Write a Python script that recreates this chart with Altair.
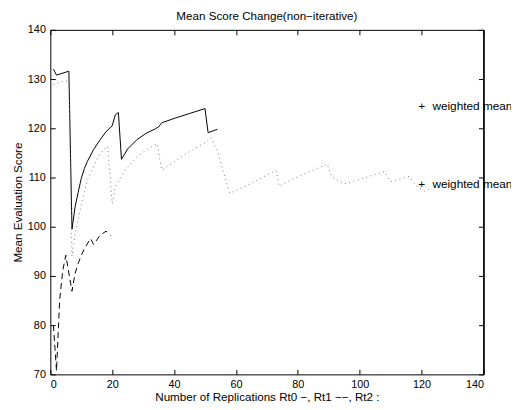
import altair as alt
import pandas as pd

# Rt0 (solid)
rt0_x = [1, 2, 6, 7, 8, 9, 10, 11, 12, 14, 16, 18, 20, 21, 22, 23, 25, 28, 31, 34, 35, 36, 40, 45, 50, 51, 54]
rt0_y = [132.0, 130.8, 131.6, 99.5, 104.0, 107.0, 109.8, 111.8, 113.3, 115.7, 117.6, 119.3, 120.5, 122.7, 123.2,
         113.7, 115.8, 117.7, 119.0, 119.9, 120.3, 121.1, 122.0, 123.0, 124.0, 119.1, 119.8]

# Rt1 (dashed)
rt1_x = [1, 2, 3, 4, 5, 7, 8, 9, 10, 11, 13, 14, 16, 18, 19.5]
rt1_y = [80.0, 70.7, 85.0, 91.0, 94.2, 86.9, 90.5, 92.5, 94.2, 95.5, 97.6, 96.4, 98.2, 99.1, 98.2]

# Rt2 (dotted)
rt2_x = [1, 4, 6, 7, 8, 10, 12, 14, 16, 18.5, 20, 21, 24, 28, 31, 34.5, 36, 40, 43, 47, 50, 52, 54, 56, 58,
         62, 66, 70, 73, 74, 78, 82, 86, 89.5, 91, 95, 100, 104, 108, 110, 113, 116, 118, 121, 123]
rt2_y = [128.9, 129.5, 129.7, 94.0, 98.5, 104.5, 109.5, 112.4, 114.7, 116.4, 104.7, 108.0, 111.4, 114.2, 115.6,
         116.9, 111.5, 113.2, 114.5, 116.0, 117.1, 118.1, 115.4, 111.0, 106.8, 107.9, 109.2, 110.5, 111.4, 108.2,
         109.6, 110.7, 111.8, 112.7, 110.1, 108.7, 109.6, 110.4, 111.2, 109.2, 109.7, 110.2, 108.4, 107.2, 107.8]

# weighted mean annotations
wm_x = [120, 120]
wm_y = [124.6, 108.7]
wm_text = ["weighted mean", "weighted mean"]

x_ticks = [0, 20, 40, 60, 80, 100, 120, 140]
y_ticks = [70, 80, 90, 100, 110, 120, 130, 140]

FONT = "Liberation Sans"

xs = alt.Scale(domain=[0, 140], nice=False, zero=False)
ys = alt.Scale(domain=[70, 140], nice=False, zero=False)

def tick_axis(orient):
    return alt.Axis(orient=orient, offset=-5, values=(x_ticks if orient in ("top", "bottom") else y_ticks),
                    labels=False, domain=False, ticks=True, tickSize=5, tickColor="black",
                    tickWidth=1, grid=False, title=None)

d0 = pd.DataFrame({"x": rt0_x, "y": rt0_y})
d1 = pd.DataFrame({"x": rt1_x, "y": rt1_y})
d2 = pd.DataFrame({"x": rt2_x, "y": rt2_y})
dw = pd.DataFrame({"x": wm_x, "y": wm_y, "t": wm_text})

l0 = alt.Chart(d0).mark_line(color="black", strokeWidth=1).encode(
    x=alt.X("x:Q", scale=xs, axis=alt.Axis(orient="bottom", values=x_ticks, ticks=False, domain=False,
                                            grid=False, labelPadding=4, titlePadding=3,
                                            title="Number of Replications Rt0 \u2212, Rt1 \u2212\u2212, Rt2 :")),
    y=alt.Y("y:Q", scale=ys, axis=alt.Axis(orient="left", values=y_ticks, ticks=False, domain=False,
                                            grid=False, labelPadding=5, titlePadding=4,
                                            title="Mean Evaluation Score")),
    order="x:Q",
)

l1 = alt.Chart(d1).mark_line(color="black", strokeWidth=1, strokeDash=[6, 4]).encode(
    x=alt.X("x:Q", scale=xs, axis=tick_axis("bottom")),
    y=alt.Y("y:Q", scale=ys, axis=tick_axis("left")),
    order="x:Q",
)

l2 = alt.Chart(d2).mark_line(color="#777777", strokeWidth=1, strokeDash=[1, 3.5]).encode(
    x=alt.X("x:Q", scale=xs, axis=tick_axis("top")),
    y=alt.Y("y:Q", scale=ys, axis=tick_axis("right")),
    order="x:Q",
)

plus = alt.Chart(dw).mark_text(text="+", fontSize=12, font=FONT, color="black", align="center",
                               baseline="middle").encode(
    x=alt.X("x:Q", scale=xs, axis=None),
    y=alt.Y("y:Q", scale=ys, axis=None),
)

lab = alt.Chart(dw).mark_text(fontSize=12, font=FONT, color="black", align="left", baseline="middle",
                              dx=11).encode(
    x=alt.X("x:Q", scale=xs, axis=None),
    y=alt.Y("y:Q", scale=ys,
            axis=alt.Axis(orient="right", domain=True, domainColor="black", domainWidth=1.5,
                          ticks=False, labels=False, grid=False, title=None, zindex=1)),
    text="t:N",
)

chart = alt.layer(l0, l1, l2, plus, lab).resolve_axis(x="independent", y="independent").properties(
    width=440,
    height=350,
    autosize=alt.AutoSizeParams(type="none"),
    padding={"left": 43, "top": 19, "right": 28, "bottom": 33},
    title=alt.TitleParams("Mean Score Change(non\u2212iterative)", font=FONT, fontSize=11.8,
                          fontWeight="normal", color="black", offset=1,
                          frame="group", anchor="middle"),
).configure_view(stroke="black", strokeWidth=1).configure_axis(
    labelFont=FONT, labelFontSize=11, labelColor="black", titleFont=FONT, titleFontSize=11.8,
    titleFontWeight="normal", titleColor="black"
)

chart.save("out.html", embed_options={"renderer": "svg", "actions": False})
